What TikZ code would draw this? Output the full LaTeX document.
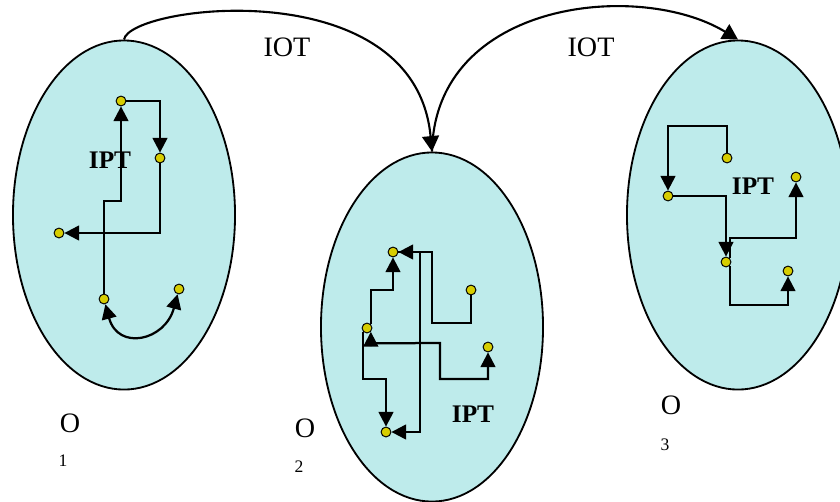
\documentclass[tikz,border=0pt]{standalone}
\usepackage{fontspec}
\setmainfont{Liberation Serif}
\usetikzlibrary{shapes.geometric, arrows.meta}
\definecolor{regionfill}{RGB}{190,235,235}
\definecolor{spotfill}{RGB}{215,205,0}
\tikzset{
  region/.style={ellipse, draw=black, line width=1.3pt, fill=regionfill,
                 minimum width=5.55cm, minimum height=8.725cm, inner sep=0pt},
  spot/.style={circle, draw=black, line width=0.7pt, fill=spotfill,
               minimum size=7pt, inner sep=0pt},
  flow/.style={->, line width=1.6pt},
  iot/.style={-{Triangle[length=11pt, width=12pt]}, line width=1.5pt},
  iotlabel/.style={inner sep=0pt, font=\fontsize{20}{24}\selectfont},
  iptlabel/.style={inner sep=0pt, font=\fontsize{18}{21}\selectfont\bfseries},
  olabel/.style={inner sep=0pt, font=\fontsize{20}{24}\selectfont},
  osub/.style={inner sep=0pt, font=\fontsize{12.5}{15}\selectfont},
}

\begin{document}
\begin{tikzpicture}[x=0.025cm, y=0.025cm, >={Triangle[length=10.5pt, width=10.5pt]}]
  \clip (0,0) rectangle (840,-501);

  % the three objects
  \node[region] (o1) at (124,-215) {};
  \node[region] (o2) at (432,-327) {};
  \node[region] (o3) at (738,-215) {};

  % object names
  \node[olabel] (n1) at (70,-423) {O};
  \node[osub] (s1) at (63,-461) {1};
  \node[olabel] (n2) at (305,-428) {O};
  \node[osub] (s2) at (299,-467) {2};
  \node[olabel] (n3) at (671,-405) {O};
  \node[osub] (s3) at (665,-445) {3};

  % IOT between objects
  \draw[iot] (o1.north) .. controls (130,-5) and (415,30) .. (o2.north);
  \draw[iot] (o2.north) .. controls (435,0) and (640,20) .. (o3.north);
  \node[iotlabel] (t1) at (287,-47) {IOT};
  \node[iotlabel] (t2) at (591,-47) {IOT};

  % IPT labels
  \node[iptlabel] (p1) at (110,-160) {IPT};
  \node[iptlabel] (p2) at (473,-414) {IPT};
  \node[iptlabel] (p3) at (753,-186) {IPT};

  % points of O1
  \node[spot] (a) at (121,-101) {};
  \node[spot] (b) at (160,-158) {};
  \node[spot] (c) at (59,-233) {};
  \node[spot] (d) at (104,-299) {};
  \node[spot] (e) at (179,-289) {};
  \draw[flow] (d) -- (104,-201) -| (a);
  \draw[flow] (a) -| (b);
  \draw[flow] (b) |- (c);
  \draw[flow,<->] (d) to[out=-75, in=-105, looseness=1.7] (e);

  % points of O2
  \node[spot] (f) at (393,-252) {};
  \node[spot] (g) at (471,-290) {};
  \node[spot] (h) at (367,-328) {};
  \node[spot] (i) at (488,-347) {};
  \node[spot] (j) at (386,-432) {};
  \draw[flow] (g) -- (471,-323) -- (432,-323) -- (432,-252) -- (f);
  \draw[flow] (f) -- (420,-252) |- (j);
  \draw[flow] (h.north east) -- ++(0,34.5) -| (f);
  \draw[flow,<->] (h.south east) -- ++(0,-11.5) -- (440,-343) -- (440,-379) -| (i);
  \draw[flow] (h.south west) -- ++(0,-47.5) -| (j);

  % points of O3
  \node[spot] (k) at (727,-158) {};
  \node[spot] (l) at (668,-196) {};
  \node[spot] (m) at (796,-177) {};
  \node[spot] (n) at (726,-262) {};
  \node[spot] (q) at (788,-271) {};
  \draw[flow] (k) -- (727,-126) -| (l);
  \draw[flow] (l) -| (n);
  \draw[flow] (n.north east) -- ++(0,20.5) -| (m);
  \draw[flow] (n.south east) -- ++(0,-39.5) -| (q);
\end{tikzpicture}
\end{document}
